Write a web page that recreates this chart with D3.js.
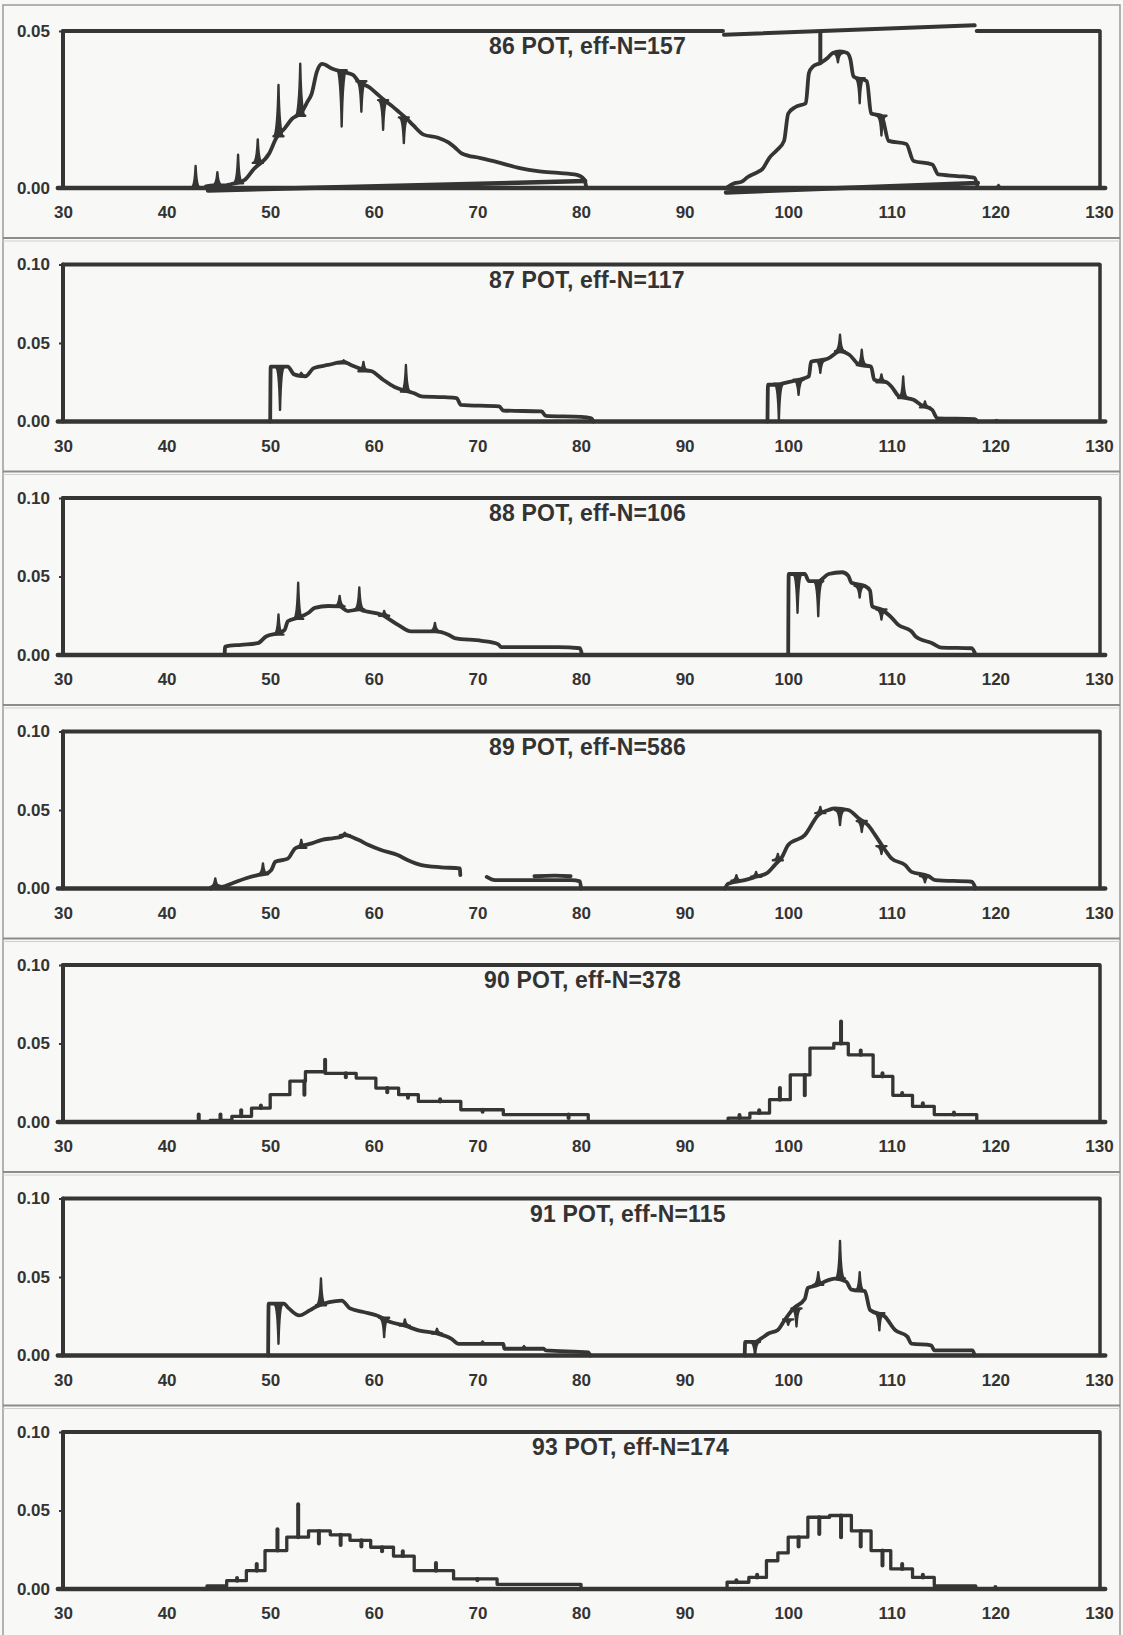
<!DOCTYPE html>
<html>
<head>
<meta charset="utf-8">
<script src="https://cdn.jsdelivr.net/npm/d3@7"></script>
<style>
  html, body { margin: 0; padding: 0; background: #f8f8f6; }
  svg { display: block; }
  text { font-family: "Liberation Sans", Arial, Helvetica, sans-serif; font-weight: bold; fill: #333; }
</style>
</head>
<body>
<svg id="chart" width="1123" height="1635"></svg>
<script>
// ---- data -------------------------------------------------------------
const seasons = ["86", "87", "88", "89", "90", "91", "93"];
const effN = ["157", "117", "106", "586", "378", "115", "174"];
const yMax = [0.05, 0.10, 0.10, 0.10, 0.10, 0.10, 0.10];
const xTicks = [30, 40, 50, 60, 70, 80, 90, 100, 110, 120, 130];
const yTicks05 = [0.00, 0.05];
const yTicks10 = [0.00, 0.05, 0.10];

// smoothed densities: [length, density]; spikes: [length, base, tip]
const curve86Left = [[43.8,0.0005],[44.5,0.0008],[45.5,0.0008],[46.2,0.0012],[47.5,0.0025],[48.4,0.006],[49.9,0.011],[50.6,0.016],[51.4,0.019],[52.1,0.022],[53.0,0.024],[53.6,0.0275],[54.0,0.030],[54.5,0.037],[55.0,0.0395],[56.0,0.038],[57.0,0.037],[58.0,0.036],[58.5,0.034],[59.6,0.032],[60.3,0.030],[61.0,0.028],[61.8,0.026],[62.5,0.024],[63.2,0.022],[63.8,0.020],[64.8,0.017],[66.2,0.016],[67.2,0.0145],[67.8,0.013],[68.5,0.011],[70.3,0.0095],[72.2,0.008],[74.1,0.0063],[76.0,0.0053],[77.8,0.0048],[79.6,0.0042],[80.3,0.0028],[80.5,0.0005]];
const curve86Right = [[94.0,0],[94.8,0.0015],[95.5,0.002],[96.1,0.0035],[97.0,0.005],[97.5,0.006],[98.2,0.0097],[98.9,0.012],[99.6,0.015],[100.0,0.0237],[100.7,0.0258],[101.7,0.027],[102.0,0.0366],[102.4,0.0387],[103.1,0.0398],[103.8,0.0414],[104.3,0.043],[105.0,0.0435],[105.7,0.043],[106.0,0.041],[106.3,0.0355],[107.6,0.034],[108.0,0.0237],[109.0,0.023],[109.7,0.015],[111.4,0.014],[112.1,0.0086],[113.9,0.0075],[114.5,0.0043],[116.3,0.0038],[118.0,0.0032],[118.3,0]];
const spikes86 = [[42.8,0,0.007],[44.9,0.0008,0.005],[46.9,0.0015,0.0106],[48.8,0.008,0.0155],[50.8,0.0165,0.0328],[52.9,0.023,0.0396],[56.9,0.0375,0.0196],[58.8,0.034,0.0243],[60.9,0.028,0.0185],[62.9,0.0225,0.0143],[104.8,0.043,0.040],[106.9,0.035,0.027],[109.0,0.023,0.0167],[120.3,0,0.001]];
const return86 = [[[80.4,0.0022],[44.0,-0.0008]], [[118.3,0.0016],[94.0,-0.0014]]];
const topDetour86 = [[93.8,0.0488],[118.0,0.0518]];
const topGap86 = [93.7, 118.2];
const link86 = [[103.1,0.0398],[103.1,0.0492]];

const curve87Left = [[50.0,0],[50.05,0.035],[50.9,0.035],[51.7,0.035],[52.3,0.030],[53.4,0.0287],[54.2,0.034],[55.6,0.036],[57.1,0.038],[57.8,0.036],[59.0,0.033],[59.8,0.032],[60.9,0.0266],[62.0,0.022],[62.8,0.020],[63.9,0.018],[64.6,0.016],[66.8,0.0155],[68.0,0.0149],[68.4,0.0106],[72.1,0.0096],[72.5,0.007],[76.2,0.0064],[76.6,0.0036],[80.0,0.003],[81.0,0.002],[81.2,0]];
const curve87Right = [[98.0,0],[98.05,0.0234],[98.9,0.0234],[99.6,0.0245],[101.0,0.0266],[102.0,0.0287],[102.2,0.038],[103.0,0.039],[103.8,0.040],[105.0,0.0447],[105.9,0.0425],[106.9,0.036],[108.0,0.035],[108.3,0.0266],[109.5,0.025],[110.0,0.022],[110.7,0.016],[112.1,0.0138],[112.8,0.0106],[113.9,0.0074],[114.4,0.002],[118.0,0.0015],[118.3,0]];
const spikes87 = [[50.95,0.035,0.0074],[53.0,0.029,0.031],[57.1,0.037,0.039],[59.0,0.032,0.038],[63.1,0.019,0.036],[99.1,0.024,0.001],[101.0,0.0266,0.017],[103.1,0.039,0.031],[105.0,0.0447,0.0553],[107.1,0.036,0.0457],[109.0,0.025,0.030],[111.1,0.015,0.0287],[113.2,0.009,0.0128],[120.1,0,0.001]];

const curve88Left = [[45.6,0],[45.65,0.0054],[47.2,0.0065],[48.8,0.0075],[49.6,0.0118],[50.8,0.014],[51.4,0.016],[51.7,0.0215],[52.7,0.0237],[53.7,0.0269],[54.3,0.030],[55.6,0.0312],[56.7,0.031],[57.5,0.028],[58.6,0.029],[59.1,0.028],[60.7,0.0258],[62.3,0.0194],[63.6,0.015],[65.9,0.015],[67.2,0.0129],[67.8,0.0108],[70.4,0.009],[72.0,0.0069],[72.3,0.005],[77.8,0.005],[79.9,0.0043],[80.1,0]];
const curve88Right = [[100.0,0],[100.05,0.0516],[101.6,0.0516],[102.0,0.047],[102.9,0.047],[103.9,0.0516],[105.2,0.0527],[105.8,0.0505],[106.1,0.046],[107.4,0.044],[107.9,0.041],[108.1,0.031],[109.0,0.029],[110.0,0.0237],[110.6,0.0194],[111.9,0.015],[112.3,0.0118],[113.9,0.0075],[114.8,0.0047],[117.7,0.0043],[118.1,0]];
const spikes88 = [[50.8,0.013,0.0258],[52.7,0.023,0.046],[56.7,0.031,0.0376],[58.6,0.029,0.043],[61.0,0.025,0.028],[65.9,0.015,0.0204],[100.9,0.0516,0.0269],[102.9,0.047,0.0247],[106.9,0.044,0.0366],[109.0,0.029,0.0226]];

const curve89Left = [[44.3,0],[44.7,0.002],[45.3,0.001],[46.3,0.0032],[47.6,0.0064],[48.8,0.0085],[49.6,0.0095],[50.1,0.0117],[50.5,0.017],[51.7,0.019],[52.4,0.0255],[53.0,0.027],[54.0,0.0287],[55.0,0.031],[56.0,0.032],[56.9,0.033],[57.2,0.034],[58.5,0.031],[59.5,0.0277],[60.7,0.0245],[62.3,0.0213],[63.3,0.018],[64.6,0.0149],[66.5,0.0135],[68.3,0.0128],[68.35,0.0085]];
const curve89Tail = [[70.9,0.0074],[71.7,0.0053],[79.1,0.0053],[79.9,0.0045],[80.0,0]];
const curve89Bit = [[75.5,0.0078],[77.5,0.0082],[79.0,0.0078]];
const curve89Right = [[93.9,0],[94.2,0.003],[95.8,0.0053],[96.9,0.0075],[97.9,0.0096],[98.7,0.0149],[99.4,0.020],[100.0,0.0277],[101.6,0.034],[102.9,0.0468],[103.9,0.050],[104.5,0.051],[105.8,0.050],[106.8,0.0447],[107.7,0.0404],[108.4,0.034],[109.3,0.025],[110.0,0.019],[111.3,0.0149],[111.9,0.0106],[113.5,0.008],[114.2,0.0053],[117.7,0.0043],[118.1,0]];
const spikes89 = [[44.7,0.001,0.0064],[49.3,0.009,0.016],[53.0,0.026,0.031],[57.2,0.034,0.0355],[95.0,0.005,0.0085],[96.9,0.0075,0.0105],[99.0,0.018,0.022],[103.1,0.048,0.052],[105.0,0.050,0.0404],[107.1,0.043,0.036],[109.0,0.027,0.022],[113.2,0.008,0.004]];

// step histograms: bin edges and bin heights
const hist90LeftEdges = [44.2,46.3,48.2,50.0,51.9,53.4,55.3,58.3,60.2,62.4,64.3,68.4,72.5,80.7];
const hist90LeftValues = [0.001,0.0036,0.0089,0.0174,0.026,0.032,0.031,0.028,0.0216,0.0174,0.0131,0.0078,0.0047];
const hist90RightEdges = [94.2,96.3,98.2,100.2,102.1,104.4,105.8,108.2,110.1,112.0,114.1,118.2];
const hist90RightValues = [0.0025,0.0057,0.0142,0.030,0.047,0.050,0.0428,0.029,0.017,0.010,0.0047];
const spikes90 = [[43.1,0,0.0047],[45.2,0.001,0.0047],[47.2,0.0036,0.0075],[49.1,0.0089,0.0105],[53.3,0.026,0.0174],[55.3,0.032,0.0396],[57.3,0.031,0.0285],[61.3,0.0216,0.019],[63.3,0.0174,0.0155],[66.4,0.0131,0.0145],[70.5,0.0078,0.0065],[78.8,0.0047,0.0025],[95.3,0.0025,0.0045],[97.2,0.0057,0.0075],[99.2,0.0142,0.0216],[101.6,0.030,0.017],[105.1,0.050,0.064],[107.0,0.0428,0.0455],[109.1,0.029,0.031],[111.0,0.017,0.0185],[113.0,0.010,0.012],[116.0,0.0047,0.006]];

const curve91Left = [[49.8,0],[49.85,0.033],[51.3,0.033],[51.8,0.030],[52.8,0.0255],[53.8,0.0287],[54.4,0.031],[55.7,0.034],[56.9,0.035],[57.7,0.030],[59.0,0.0277],[60.3,0.0255],[61.6,0.0213],[63.0,0.019],[64.3,0.016],[66.1,0.014],[67.5,0.0106],[68.2,0.0074],[72.5,0.0074],[72.6,0.0043],[76.4,0.0043],[76.6,0.0032],[80.7,0.002],[80.9,0]];
const curve91Right = [[95.8,0],[95.85,0.0087],[96.8,0.0087],[97.4,0.0109],[98.1,0.014],[99.0,0.0163],[99.7,0.023],[100.5,0.030],[101.6,0.036],[101.9,0.043],[102.9,0.045],[103.5,0.047],[104.5,0.049],[105.6,0.047],[106.1,0.042],[107.4,0.041],[107.9,0.029],[109.3,0.025],[110.3,0.0163],[111.5,0.012],[111.9,0.0076],[113.8,0.0065],[114.1,0.0033],[117.8,0.0033],[118.0,0]];
const spikes91 = [[50.8,0.033,0.0075],[54.9,0.032,0.049],[61.0,0.024,0.0117],[63.0,0.019,0.023],[66.1,0.014,0.017],[70.5,0.0074,0.009],[74.5,0.0043,0.006],[96.8,0.0087,0],[100.0,0.023,0.0195],[100.8,0.030,0.0185],[102.9,0.045,0.053],[105.0,0.049,0.073],[106.9,0.041,0.053],[108.8,0.027,0.016]];

const hist93LeftEdges = [43.9,45.8,47.7,49.5,51.6,53.7,55.8,57.7,59.7,61.9,63.9,67.7,71.9,80.0];
const hist93LeftValues = [0.002,0.0053,0.0117,0.0245,0.033,0.037,0.0345,0.031,0.0266,0.021,0.0117,0.0064,0.003];
const hist93RightEdges = [94.1,96.2,97.9,99.0,100.0,101.9,104.0,106.1,108.0,109.9,112.0,114.1,118.1];
const hist93RightValues = [0.0043,0.0074,0.018,0.023,0.033,0.0457,0.0468,0.037,0.0245,0.0128,0.0074,0.002];
const spikes93 = [[46.8,0.0053,0.007],[48.7,0.0117,0.016],[50.7,0.0245,0.038],[52.7,0.033,0.054],[54.7,0.037,0.029],[56.8,0.0345,0.028],[58.8,0.031,0.027],[60.8,0.0266,0.024],[62.8,0.021,0.024],[66.0,0.0117,0.0165],[70.0,0.0064,0.0055],[95.0,0.0043,0.0055],[97.0,0.0074,0.009],[101.0,0.033,0.027],[103.0,0.0457,0.035],[105.1,0.0468,0.033],[107.0,0.037,0.027],[109.1,0.0245,0.015],[111.0,0.0128,0.016],[113.0,0.0074,0.009],[120.0,0,0.0012]];

// ---- layout -----------------------------------------------------------
const W = 1123, H = 1635;
const xLeft = 63, xRight = 1099;
const firstBase = 188, pitch = 233.5, plotH = 157;
const titleLeft = [489, 489, 489, 489, 484, 530, 532];
const ink = "#353535";
const fontStack = '"Liberation Sans", Arial, Helvetica, sans-serif';

// corner points for a step outline: rises at the first edge, falls at the last
function stepPoints(edges, values) {
  const pts = [[edges[0], 0]];
  values.forEach((v, i) => pts.push([edges[i], v]));
  pts.push([edges[edges.length - 1], values[values.length - 1]]);
  pts.push([edges[edges.length - 1], 0]);
  return pts;
}

const panels = [
  { kind: "smooth", pieces: [curve86Left, curve86Right], spikes: spikes86,
    returns: return86, topDetour: topDetour86, topGap: topGap86, link: link86 },
  { kind: "smooth", pieces: [curve87Left, curve87Right], spikes: spikes87 },
  { kind: "smooth", pieces: [curve88Left, curve88Right], spikes: spikes88 },
  { kind: "smooth", pieces: [curve89Left, curve89Tail, curve89Bit, curve89Right], spikes: spikes89 },
  { kind: "hist", pieces: [stepPoints(hist90LeftEdges, hist90LeftValues), stepPoints(hist90RightEdges, hist90RightValues)], spikes: spikes90 },
  { kind: "smooth", pieces: [curve91Left, curve91Right], spikes: spikes91 },
  { kind: "hist", pieces: [stepPoints(hist93LeftEdges, hist93LeftValues), stepPoints(hist93RightEdges, hist93RightValues)], spikes: spikes93 }
];

const svg = d3.select("#chart");
svg.append("rect").attr("x", 0).attr("y", 0).attr("width", W).attr("height", H).attr("fill", "#f8f8f6");
svg.append("rect").attr("x", 3).attr("y", 5).attr("width", W - 6).attr("height", H - 4)
  .attr("fill", "none").attr("stroke", "#9a9a9a").attr("stroke-width", 1.5);

const x = d3.scaleLinear().domain([30, 130]).range([xLeft, xRight]);

panels.forEach((p, i) => {
  const base = firstBase + i * pitch;
  const top = base - plotH;
  const y = d3.scaleLinear().domain([0, yMax[i]]).range([base, top]);
  const g = svg.append("g");

  // separator under the panel
  if (i < panels.length - 1) {
    g.append("line").attr("x1", 3).attr("x2", W - 3)
      .attr("y1", base + 50).attr("y2", base + 50)
      .attr("stroke", "#8c8c8c").attr("stroke-width", 2);
    g.append("line").attr("x1", 3).attr("x2", W - 3)
      .attr("y1", base + 53).attr("y2", base + 53)
      .attr("stroke", "#cfcfcf").attr("stroke-width", 1);
  }

  // axes (labels only, frame drawn separately)
  const ax = g.append("g").attr("transform", `translate(0,${base})`)
    .call(d3.axisBottom(x).tickValues(xTicks).tickSize(0).tickPadding(18).tickFormat(d3.format("d")));
  ax.select(".domain").remove();
  ax.selectAll("text").attr("font-size", 17).style("font-family", fontStack)
    .style("font-weight", "bold").attr("fill", "#333");

  const ay = g.append("g").attr("transform", `translate(${xLeft},0)`)
    .call(d3.axisLeft(y).tickValues(i === 0 ? yTicks05 : yTicks10).tickSize(4).tickPadding(9)
      .tickFormat(d3.format(".2f")));
  ay.select(".domain").remove();
  ay.selectAll("line").attr("stroke", ink).attr("stroke-width", 2);
  ay.selectAll("text").attr("font-size", 17).style("font-family", fontStack)
    .style("font-weight", "bold").attr("fill", "#333");

  // frame
  const frame = g.append("g").attr("stroke", ink).attr("fill", "none").attr("stroke-linecap", "round");
  if (p.topGap) {
    frame.append("line").attr("x1", x(30)).attr("x2", x(p.topGap[0])).attr("y1", top).attr("y2", top).attr("stroke-width", 4);
    frame.append("line").attr("x1", x(p.topGap[1])).attr("x2", x(130)).attr("y1", top).attr("y2", top).attr("stroke-width", 4);
    frame.append("line").attr("x1", x(p.topDetour[0][0])).attr("x2", x(p.topDetour[1][0]))
      .attr("y1", y(p.topDetour[0][1])).attr("y2", y(p.topDetour[1][1])).attr("stroke-width", 4);
    frame.append("line").attr("x1", x(p.link[0][0])).attr("x2", x(p.link[1][0]))
      .attr("y1", y(p.link[0][1])).attr("y2", y(p.link[1][1])).attr("stroke-width", 4);
  } else {
    frame.append("line").attr("x1", x(30)).attr("x2", x(130)).attr("y1", top).attr("y2", top).attr("stroke-width", 4);
  }
  frame.append("line").attr("x1", x(30)).attr("x2", x(30)).attr("y1", top).attr("y2", base).attr("stroke-width", 4);
  frame.append("line").attr("x1", x(130) + 1).attr("x2", x(130) + 1).attr("y1", top).attr("y2", base).attr("stroke-width", 3.5);
  frame.append("line").attr("x1", x(29.5)).attr("x2", x(130.6)).attr("y1", base).attr("y2", base).attr("stroke-width", 4.5);

  // density curves
  const line = d3.line().x(d => x(d[0])).y(d => y(d[1]))
    .curve(p.kind === "hist" ? d3.curveStepAfter : d3.curveMonotoneX);
  p.pieces.forEach(pts => {
    g.append("path").attr("d", line(pts)).attr("fill", "none")
      .attr("stroke", ink).attr("stroke-width", p.kind === "hist" ? 3.3 : 3.8)
      .attr("stroke-linejoin", "round").attr("stroke-linecap", "round");
  });

  if (p.returns) {
    p.returns.forEach(seg => {
      g.append("path").attr("d", d3.line().x(d => x(d[0])).y(d => y(d[1]))(seg))
        .attr("fill", "none").attr("stroke", ink).attr("stroke-width", 4.5).attr("stroke-linecap", "round");
    });
  }

  // spikes
  p.spikes.forEach(s => {
    const sx = x(s[0]), sb = y(s[1]), st = y(s[2]);
    if (p.kind === "hist") {
      g.append("line").attr("x1", sx).attr("x2", sx).attr("y1", sb).attr("y2", st)
        .attr("stroke", ink).attr("stroke-width", 4).attr("stroke-linecap", "round");
    } else {
      const w = 5;
      const d = `M${sx - w},${sb} Q${sx - 1},${sb} ${sx},${st} Q${sx + 1},${sb} ${sx + w},${sb} Z`;
      g.append("path").attr("d", d).attr("fill", ink).attr("stroke", ink).attr("stroke-width", 2.4)
        .attr("stroke-linejoin", "round");
    }
  });

  // title
  g.append("text").attr("x", titleLeft[i]).attr("y", top + 23)
    .attr("font-size", 23).style("letter-spacing", "0.2px")
    .text(`${seasons[i]} POT,  eff-N=${effN[i]}`);
});
</script>
</body>
</html>
